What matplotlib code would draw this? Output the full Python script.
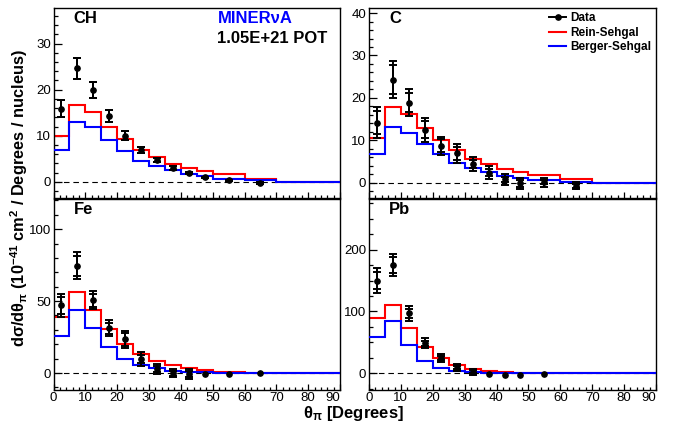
import numpy as np
import matplotlib
matplotlib.use("Agg")
import matplotlib.pyplot as plt
from matplotlib.ticker import MultipleLocator
from matplotlib.lines import Line2D

plt.rcParams['font.family'] = ['Liberation Sans', 'DejaVu Sans']
plt.rcParams['mathtext.fontset'] = 'custom'
plt.rcParams['mathtext.rm'] = 'Liberation Sans:bold'
plt.rcParams['mathtext.it'] = 'Liberation Sans:bold'
plt.rcParams['mathtext.bf'] = 'Liberation Sans:bold'
plt.rcParams['mathtext.default'] = 'regular'

# ---------------- data ----------------
edges = [0, 5, 10, 15, 20, 25, 30, 35, 40, 45, 50, 60, 70, 90]
centers = [2.5, 7.5, 12.5, 17.5, 22.5, 27.5, 32.5, 37.5, 42.5, 47.5, 55, 65]

ch_rein = [10.0, 16.7, 15.1, 12.0, 9.3, 7.0, 5.3, 3.9, 3.0, 2.4, 1.7, 0.65, 0]
ch_berger = [6.8, 13.0, 12.0, 9.1, 6.6, 4.6, 3.4, 2.5, 1.8, 1.3, 0.7, 0.35, 0]
ch_data = [15.9, 24.6, 19.9, 14.3, 10.0, 6.9, 4.7, 3.0, 1.9, 0.95, 0.3, -0.2]
ch_tot = [1.75, 2.3, 1.7, 1.3, 1.0, 0.65, 0.5, 0.4, 0.25, 0.2, 0.2, 0.2]
ch_stat = [1.75, 2.3, 1.7, 1.3, 1.0, 0.65, 0.5, 0.4, 0.25, 0.2, 0.2, 0.2]

c_rein = [10.6, 17.9, 16.1, 12.8, 10.0, 7.6, 5.7, 4.3, 3.3, 2.6, 1.8, 0.8, 0]
c_berger = [6.8, 13.2, 11.8, 9.1, 6.7, 4.7, 3.4, 2.5, 1.7, 1.2, 0.6, 0.25, 0]
c_data = [14.2, 24.3, 18.9, 12.5, 8.7, 6.9, 4.4, 2.4, 0.8, -0.1, 0.1, -0.7]
c_tot = [3.6, 4.3, 3.2, 2.8, 2.2, 2.2, 1.75, 1.55, 1.3, 1.3, 1.0, 0.8]
c_stat = [2.6, 3.4, 2.2, 2.0, 1.5, 1.5, 1.0, 0.85, 0.6, 0.8, 0.5, 0.45]

fe_rein = [38.7, 56.6, 44.1, 30.6, 20.0, 13.0, 8.6, 5.6, 3.2, 2.1, 0.9, 0.1, 0]
fe_berger = [26.0, 43.9, 31.6, 17.9, 10.0, 5.6, 3.2, 1.6, 0.9, 0.5, 0.2, 0.1, 0]
fe_data = [47.1, 74.7, 50.6, 31.1, 23.4, 9.7, 2.8, -0.2, -0.9, -0.7, -0.7, -0.2]
fe_tot = [7.9, 9.3, 6.3, 5.6, 6.1, 4.6, 3.8, 2.9, 3.5, 0, 0, 0]
fe_stat = [6.0, 6.9, 4.5, 3.8, 4.4, 2.9, 2.1, 1.8, 2.2, 0, 0, 0]

pb_rein = [89, 111, 73, 43, 24, 13, 6.5, 3.2, 1.6, 0.4, 0.1, 0, 0]
pb_berger = [58, 84, 46.5, 20.5, 8.6, 4.3, 2.2, 1.1, 0.5, 0.2, 0.1, 0, 0]
pb_data = [150, 175, 97, 48.6, 24.3, 9.2, 2.7, -1.6, -2.2, -3.2, -1.1]
pb_tot = [20, 17.6, 11.6, 7.8, 6.7, 5.1, 4.9, 0, 0, 0, 0]
pb_stat = [14, 13, 7.6, 4.0, 3.5, 3.0, 2.4, 0, 0, 0, 0]

x_ticks = [0, 10, 20, 30, 40, 50, 60, 70, 80, 90]
x_tick_labels = ['0', '10', '20', '30', '40', '50', '60', '70', '80', '90']

panels = [
    dict(name='CH', rein=ch_rein, berger=ch_berger, data=ch_data, tot=ch_tot, stat=ch_stat,
         ylim=(-3.5, 37.7), major=10, minor=2),
    dict(name='C', rein=c_rein, berger=c_berger, data=c_data, tot=c_tot, stat=c_stat,
         ylim=(-3.6, 41.2), major=10, minor=2),
    dict(name='Fe', rein=fe_rein, berger=fe_berger, data=fe_data, tot=fe_tot, stat=fe_stat,
         ylim=(-11.8, 121), major=50, minor=10),
    dict(name='Pb', rein=pb_rein, berger=pb_berger, data=pb_data, tot=pb_tot, stat=pb_stat,
         ylim=(-27, 282), major=100, minor=25),
]

W, H = 673, 423
fig = plt.figure(figsize=(W / 100, H / 100), dpi=100)

rects = [
    (53.5, 8, 340, 198),
    (369, 8, 656, 198),
    (53.5, 199, 340, 390),
    (369, 199, 656, 390),
]

axes = []
for i, (p, r) in enumerate(zip(panels, rects)):
    x0, y0, x1, y1 = r
    ax = fig.add_axes([x0 / W, 1 - y1 / H, (x1 - x0) / W, (y1 - y0) / H])
    axes.append(ax)
    ax.axhline(0, color='black', lw=0.8, ls=(0, (5, 3.5)), zorder=1)
    ax.stairs(p['rein'], edges, baseline=None, color='#ff0000', lw=1.5, zorder=2)
    ax.stairs(p['berger'], edges, baseline=None, color='#0000ff', lw=1.5, zorder=3)
    n = len(p['data'])
    cx = np.array(centers[:n])
    d = np.array(p['data'])
    tot = np.array(p['tot'])
    stat = np.array(p['stat'])
    m = tot > 0
    ax.errorbar(cx[m], d[m], yerr=tot[m], fmt='none', ecolor='black', elinewidth=1.4,
                capsize=2.6, capthick=1.4, zorder=4)
    ax.errorbar(cx[m], d[m], yerr=stat[m], fmt='none', ecolor='black', elinewidth=1.4,
                capsize=2.6, capthick=1.4, zorder=4)
    ax.plot(cx, d, 'o', color='black', ms=3.8, zorder=5)

    ax.set_xlim(0, 90)
    ax.set_ylim(*p['ylim'])
    ax.xaxis.set_major_locator(MultipleLocator(10))
    ax.xaxis.set_minor_locator(MultipleLocator(2))
    ax.yaxis.set_major_locator(MultipleLocator(p['major']))
    ax.yaxis.set_minor_locator(MultipleLocator(p['minor']))
    ax.tick_params(axis='both', which='both', direction='in', top=False, right=False,
                   labelsize=9.5, colors='black', pad=2)
    ax.tick_params(axis='x', which='both', pad=1.2)
    ax.tick_params(axis='y', which='major', length=5.5, width=0.9)
    ax.tick_params(axis='y', which='minor', length=2.8, width=0.9)
    ax.tick_params(axis='x', which='major', length=4.5, width=0.9)
    ax.tick_params(axis='x', which='minor', length=2.3, width=0.9)
    for s in ax.spines.values():
        s.set_linewidth(1.0)
    if i < 2:
        ax.tick_params(axis='x', labelbottom=False)
    else:
        ax.set_xticks(x_ticks)
        labs = ax.set_xticklabels(x_tick_labels)
        labs[-1].set_horizontalalignment('right')
    ax.text(0.07, 0.947, p['name'], transform=ax.transAxes, fontsize=12,
            fontweight='bold', va='center', ha='left')

axes[0].text(0.574, 0.945, 'MINERνA', transform=axes[0].transAxes, fontsize=12,
             fontweight='bold', color='#0000ff', va='center', ha='left')
axes[0].text(0.571, 0.84, '1.05E+21 POT', transform=axes[0].transAxes, fontsize=12,
             fontweight='bold', color='black', va='center', ha='left')

# legend
h_data = Line2D([], [], color='black', lw=1.4, marker='o', ms=3.8)
h_rein = Line2D([], [], color='#ff0000', lw=1.5)
h_berg = Line2D([], [], color='#0000ff', lw=1.5)
axes[1].legend([h_data, h_rein, h_berg], ['Data', 'Rein-Sehgal', 'Berger-Sehgal'],
               loc='upper left', bbox_to_anchor=(0.62, 0.99), frameon=False,
               borderpad=0.2, borderaxespad=0, handlelength=1.4, handletextpad=0.4,
               labelspacing=0.22, prop={'weight': 'bold', 'size': 8.5})

fig.text(19 / W, 1 - 198 / H,
         'dσ/dθ$_{π}$ (10$^{-41}$ cm$^{2}$ / Degrees / nucleus)',
         rotation=90, ha='center', va='center', fontsize=11.8, fontweight='bold')
fig.text(353 / W, 1 - 413 / H, 'θ$_{π}$ [Degrees]', ha='center', va='center',
         fontsize=12, fontweight='bold')

fig.savefig('out.png', dpi=100)
